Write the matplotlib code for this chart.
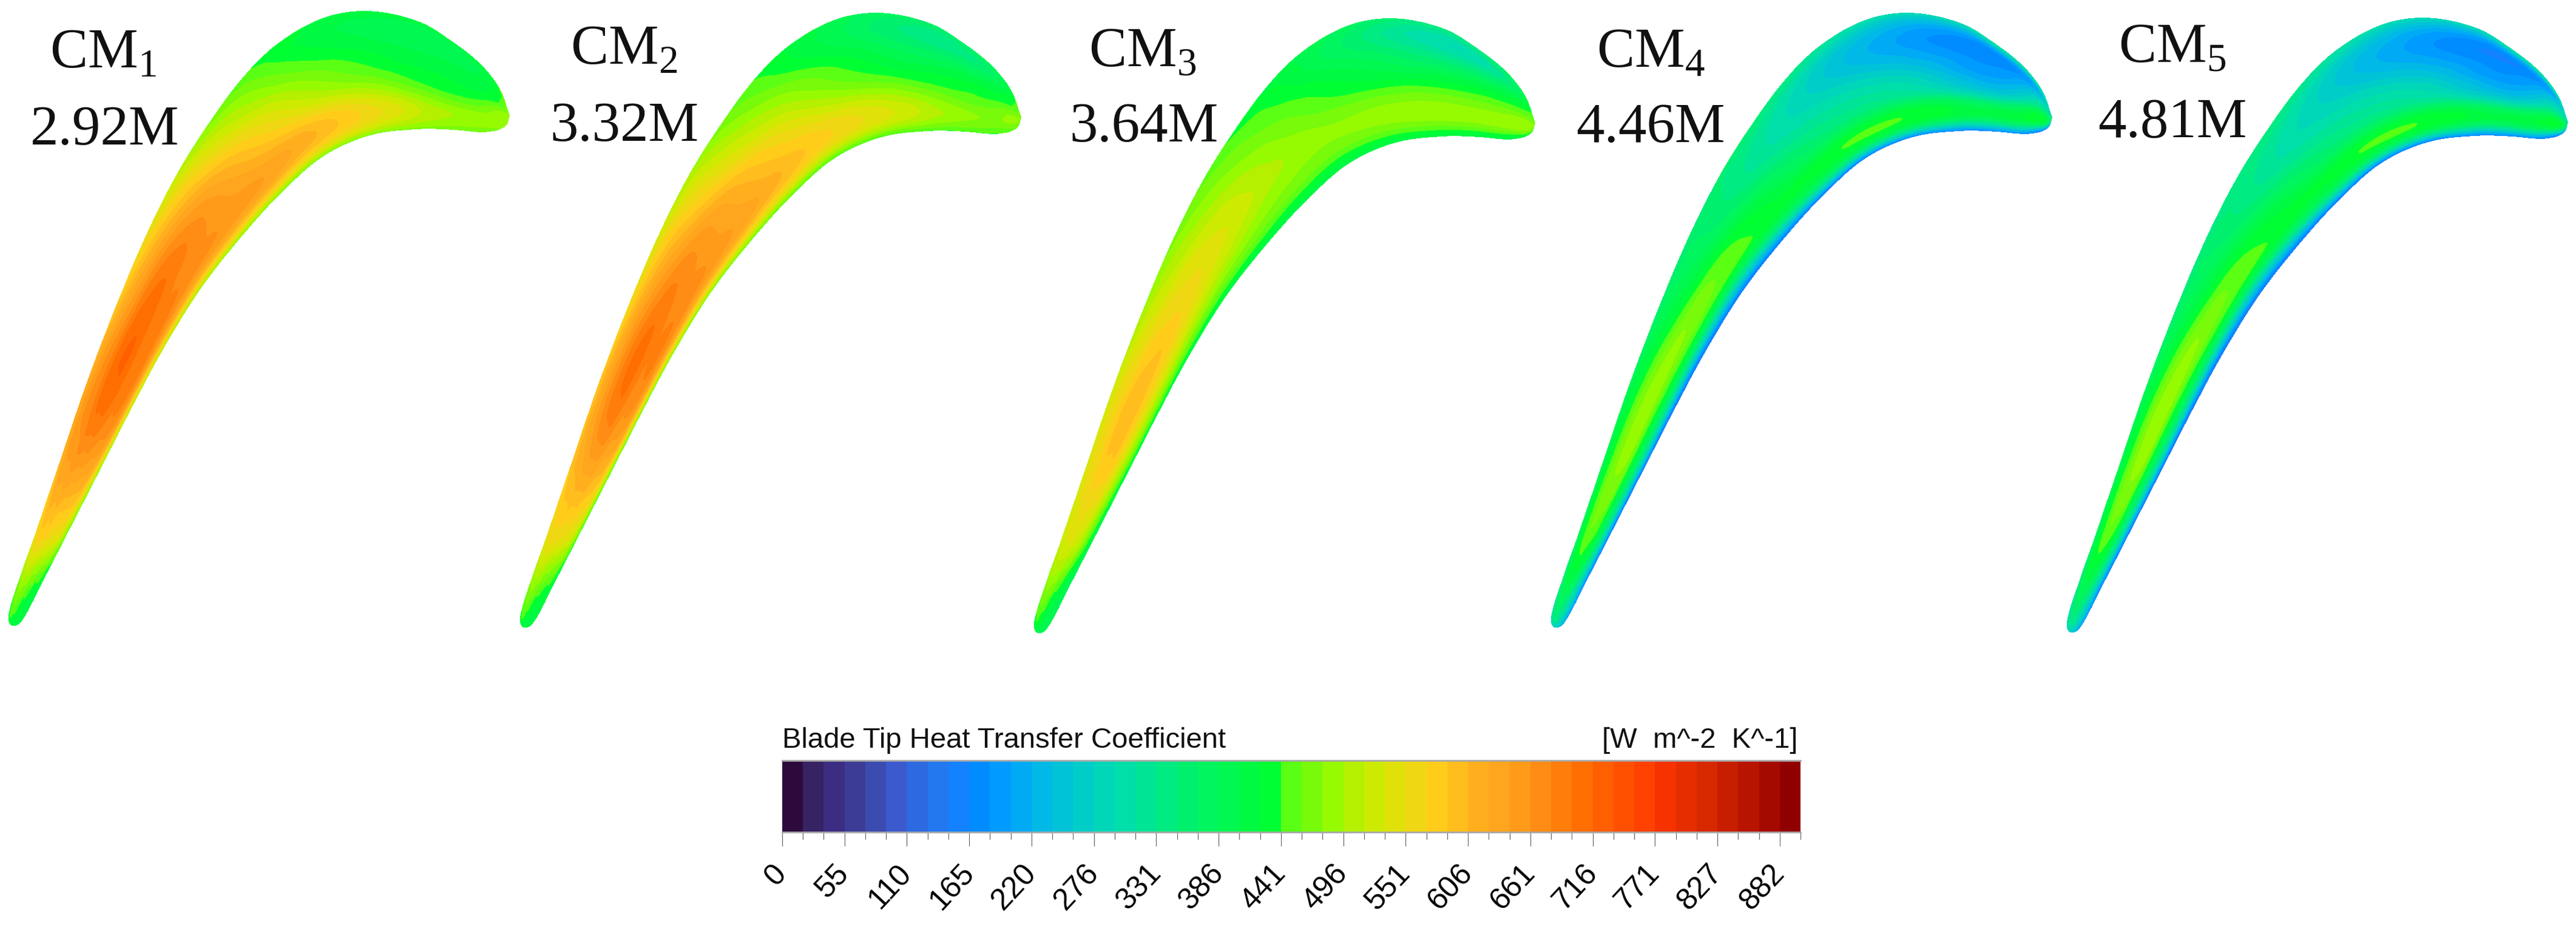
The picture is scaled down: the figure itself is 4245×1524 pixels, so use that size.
import numpy as np
import matplotlib
matplotlib.use("Agg")
import matplotlib.pyplot as plt
from matplotlib.colors import ListedColormap, BoundaryNorm
from matplotlib.tri import Triangulation, UniformTriRefiner, CubicTriInterpolator

W, H = 4245, 1524
plt.rcParams['mathtext.fontset'] = 'custom'
plt.rcParams['mathtext.rm'] = 'Liberation Serif'

# ---- data ------------------------------------------------------------
models = ["1", "2", "3", "4", "5"]
cell_counts = ["2.92M", "3.32M", "3.64M", "4.46M", "4.81M"]
tick_values = [0, 55, 110, 165, 220, 276, 331, 386, 441, 496, 551, 606, 661, 716, 771, 827, 882]
band_width = 18.37
n_bands = 49
band_rgb = [
    (45,10,60),(55,35,100),(60,45,130),(60,60,150),(60,75,175),(60,90,205),(45,105,225),
    (35,120,240),(20,130,255),(0,140,255),(0,155,255),(0,170,245),(0,185,230),(0,195,215),
    (0,205,200),(0,215,185),(0,222,170),(0,228,150),(0,235,130),(0,240,110),(0,245,95),
    (0,248,80),(0,250,65),(0,255,50),(90,255,20),(120,250,10),(150,250,0),(180,240,0),
    (205,235,0),(225,225,10),(240,215,20),(255,205,25),(255,190,30),(255,175,30),(255,165,30),
    (255,155,25),(255,140,20),(255,125,10),(255,110,0),(255,95,0),(255,80,0),(255,65,0),
    (245,50,0),(230,45,0),(215,40,0),(200,30,0),(185,20,0),(165,10,0),(145,0,0)]

# blade outline, suction side and pressure side, per chord station (CM1 pixels)
suction_x = [20,15,34,57,100,143,189,241,293,344,402,459,534,608,689,746,792,823,839]
suction_y = [1030,1013,950,885,759,633,512,389,286,205,127,72,30,19,36,70,107,147,190]
pressure_x = [20,35,72,107,172,216,268,330,400,465,533,610,689,746,792,814,826,835,839]
pressure_y = [1030,1023,953,885,758,672,575,475,386,315,256,222,212,213,217,215,211,204,190]
blade_dx = [0, 843, 1690, 2542, 3392]
blade_dy = [0, 3, 12, 3, 11]

# heat transfer coefficient read at stations (rows) across the passage (columns)
station_pos = [0, 2, 4, 6, 8, 10, 12, 14, 16, 18]
across_pos = [0, .12, .3, .5, .7, .88, 1]
htc_cm1 = [[415]*7,
    [470,500,490,470,450,436,430],
    [610,640,650,650,640,600,480],
    [590,630,680,715,690,650,500],
    [510,555,610,650,655,620,480],
    [445,470,505,545,600,590,470],
    [420,405,425,452,510,525,470],
    [410,392,400,420,445,490,460],
    [415,405,415,428,470,490,480],
    [480]*7]
htc_cm2 = [[405]*7,
    [480,495,485,465,450,435,425],
    [590,610,630,640,620,580,450],
    [560,610,665,700,680,640,470],
    [495,535,575,625,635,600,460],
    [440,455,490,530,570,555,445],
    [395,385,410,440,500,510,440],
    [365,335,365,420,450,475,440],
    [385,370,400,428,465,480,450],
    [470]*7]
htc_cm3 = [[395]*7,
    [470,485,475,450,420,400,390],
    [530,555,575,580,540,470,410],
    [495,525,555,580,555,480,415],
    [455,475,505,525,500,455,410],
    [415,430,450,470,480,450,405],
    [375,350,380,425,480,470,405],
    [340,295,330,410,465,480,400],
    [370,340,380,430,470,490,420],
    [460]*7]
htc_cm4 = [[260]*7,
    [330,390,410,380,320,240,170],
    [400,430,470,480,410,290,140],
    [360,395,430,475,450,300,140],
    [350,345,350,405,435,330,150],
    [340,290,285,325,392,412,160],
    [300,225,215,270,350,400,170],
    [290,190,175,205,310,400,170],
    [310,200,215,285,385,405,170],
    [290]*7]
htc_cm5 = [[255]*7,
    [320,380,400,370,310,230,160],
    [400,430,470,480,400,280,135],
    [355,390,430,475,445,295,135],
    [345,340,345,400,435,325,145],
    [330,285,280,320,390,412,155],
    [295,220,210,265,345,400,165],
    [285,185,170,200,305,400,165],
    [305,195,210,280,380,405,165],
    [285]*7]
htc_tables = [htc_cm1, htc_cm2, htc_cm3, htc_cm4, htc_cm5]

title_x = [170, 1028, 1883, 2721, 3580]
title_y = [112, 106, 109, 110, 102]
count_x = [173, 1029, 1885, 2720, 3580]
count_y = [238, 232, 233, 234, 226]

# ---- drawing ---------------------------------------------------------
def spline(px, py, qx, qy, s):
    """Chord-length Hermite curve through one outline side; q is the other side."""
    p = np.column_stack([px, py]).astype(float)
    q = np.column_stack([qx, qy]).astype(float)
    d = np.maximum(np.hypot(*np.diff(p, axis=0).T), 1e-6)
    m = np.zeros_like(p)
    m[1:-1] = (p[2:] - p[:-2]) / (d[:-1] + d[1:])[:, None]
    # round tail: leave the end point square to the blade axis
    axis = (p[1] + q[1]) / 2 - p[0]
    axis /= np.hypot(*axis)
    v = p[1] - p[0]
    v = v - v.dot(axis) * axis
    m[0] = v / np.hypot(*v)
    m[-1] = (p[-1] - p[-2]) / d[-1]
    i = np.clip(np.floor(s).astype(int), 0, len(p) - 2)
    u = (s - i)[:, None]
    h = d[i][:, None]
    out = ((2*u**3 - 3*u**2 + 1) * p[i] + (u**3 - 2*u**2 + u) * h * m[i]
           + (-2*u**3 + 3*u**2) * p[i + 1] + (u**3 - u**2) * h * m[i + 1])
    return out[:, 0], out[:, 1]

fig = plt.figure(figsize=(W/100, H/100), dpi=100, facecolor='white')
ax = fig.add_axes([0, 0, 1, 1])
ax.set_xlim(0, W)
ax.set_ylim(H, 0)
ax.axis('off')

levels = np.arange(n_bands + 1) * band_width
cmap = ListedColormap(np.array(band_rgb) / 255)
norm = BoundaryNorm(levels, cmap.N)

S, T = np.meshgrid(np.asarray(station_pos, float) / 18, across_pos, indexing='ij')
for k, table in enumerate(htc_tables):
    base = Triangulation(S.ravel(), T.ravel())
    vals = np.asarray(table, float).ravel()
    ref, z = UniformTriRefiner(base).refine_field(
        vals, triinterpolator=CubicTriInterpolator(base, vals, kind='min_E'), subdiv=4)
    s = ref.x * 18
    t = ref.y
    ux, uy = spline(suction_x, suction_y, pressure_x, pressure_y, s)
    lx, ly = spline(pressure_x, pressure_y, suction_x, suction_y, s)
    x = (1 - t) * ux + t * lx + blade_dx[k]
    y = (1 - t) * uy + t * ly + blade_dy[k]
    tri = Triangulation(x, y, triangles=ref.triangles)
    cs = ax.tricontourf(tri, np.clip(z, 1, 899), levels=levels, cmap=cmap, norm=norm)
    cs.set_edgecolor('face')
    cs.set_linewidth(0.4)
    ax.text(title_x[k], title_y[k], "CM$_{\\mathrm{%s}}$" % models[k], family='Liberation Serif',
            fontsize=67, ha='center', va='baseline', color='#111111')
    ax.text(count_x[k], count_y[k], cell_counts[k], family='Liberation Serif',
            fontsize=67, ha='center', va='baseline', color='#111111')

# colour bar
bx0, bx1, by0, by1 = 1289, 2967, 1253, 1371
cax = fig.add_axes([bx0/W, 1 - by1/H, (bx1 - bx0)/W, (by1 - by0)/H])
cax.pcolormesh(levels, [0, 1], (levels[:-1] + band_width/2)[None, :], cmap=cmap, norm=norm)
cax.set_xlim(levels[0], levels[-1])
cax.set_yticks([])
for side in ('left', 'right'):
    cax.spines[side].set_visible(False)
for side in ('top', 'bottom'):
    cax.spines[side].set_color('#a8a8a8')
    cax.spines[side].set_linewidth(2)
cax.set_xticks(np.arange(len(tick_values)) * 3 * band_width)
cax.set_xticklabels([str(v) for v in tick_values], family='Liberation Sans', fontsize=36,
                    rotation=47, rotation_mode='anchor', ha='right', va='center')
cax.set_xticks(levels, minor=True)
cax.tick_params(axis='x', which='major', length=16.5, width=0.7, color='#555555', pad=27)
cax.tick_params(axis='x', which='minor', length=8.5, width=0.7, color='#555555')
fig.text(bx0/W, 1 - 1232/H, "Blade Tip Heat Transfer Coefficient", family='Liberation Sans',
         fontsize=34, ha='left', va='baseline', color='#111111')
fig.text(2963/W, 1 - 1232/H, "[W  m^-2  K^-1]", family='Liberation Sans',
         fontsize=34, ha='right', va='baseline', color='#111111')

fig.savefig('out.png', dpi=100, facecolor='white')
